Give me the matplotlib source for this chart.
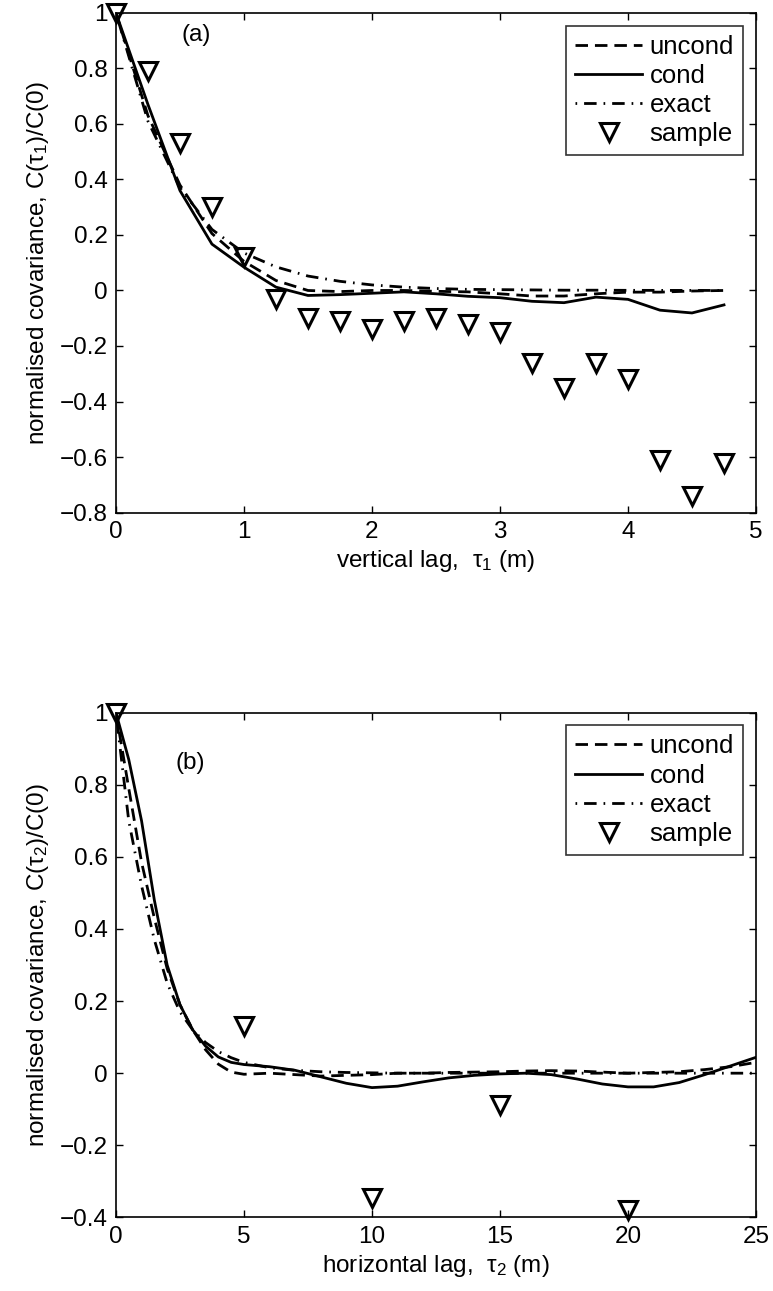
import matplotlib
matplotlib.use('Agg')
import matplotlib.pyplot as plt
import numpy as np

plt.rcParams['font.family'] = ['Liberation Sans Narrow', 'Liberation Sans', 'DejaVu Sans']
plt.rcParams['mathtext.fontset'] = 'custom'
plt.rcParams['mathtext.rm'] = 'Liberation Sans'
plt.rcParams['mathtext.it'] = 'Liberation Sans'

# ---- (a) vertical lag ----
tau1 = [0, 0.25, 0.5, 0.75, 1.0, 1.25, 1.5, 1.75, 2.0, 2.25, 2.5, 2.75,
        3.0, 3.25, 3.5, 3.75, 4.0, 4.25, 4.5, 4.75]
uncond1 = [1.0, 0.63, 0.38, 0.205, 0.105, 0.036, 0.0, -0.004, 0.0, 0.0, -0.003, -0.005,
           -0.012, -0.02, -0.02, -0.012, -0.006, -0.006, -0.002, 0.0]
cond1 = [1.0, 0.67, 0.36, 0.167, 0.084, 0.012, -0.018, -0.015, -0.01, -0.005, -0.012, -0.021,
         -0.026, -0.039, -0.044, -0.024, -0.032, -0.071, -0.081, -0.052]
exact1 = [1.0, 0.61, 0.37, 0.22, 0.135, 0.085, 0.052, 0.033, 0.02, 0.012, 0.007, 0.004,
          0.003, 0.002, 0.001, 0.001, 0.0005, 0.0003, 0.0002, 0.0001]
sample1 = [1.0, 0.79, 0.53, 0.30, 0.12, -0.03, -0.10, -0.11, -0.14, -0.11, -0.10, -0.12,
           -0.15, -0.26, -0.35, -0.26, -0.32, -0.61, -0.74, -0.62]

# ---- (b) horizontal lag ----
tau2 = [0, 0.5, 1, 1.5, 2, 2.5, 3, 3.5, 4, 4.5, 5, 6, 7, 8, 9, 10, 11, 12, 13,
        14, 15, 16, 17, 18, 19, 20, 21, 22, 23, 24, 25]
uncond2 = [1.0, 0.79, 0.585, 0.43, 0.29, 0.19, 0.12, 0.065, 0.025, 0.003, -0.003, 0.0,
           -0.004, -0.008, -0.006, -0.004, 0.0, 0.0, 0.002, 0.003, 0.004, 0.006, 0.007,
           0.006, 0.003, 0.0, 0.002, 0.004, 0.01, 0.018, 0.03]
cond2 = [1.0, 0.87, 0.70, 0.48, 0.30, 0.19, 0.12, 0.075, 0.045, 0.03, 0.024, 0.018,
         0.008, -0.01, -0.028, -0.04, -0.036, -0.024, -0.013, -0.006, -0.002, 0.0,
         -0.004, -0.016, -0.03, -0.038, -0.038, -0.026, -0.004, 0.02, 0.044]
exact2 = [1.0, 0.70, 0.52, 0.37, 0.25, 0.17, 0.12, 0.085, 0.06, 0.043, 0.03, 0.015,
          0.008, 0.004, 0.002, 0.001, 0.0, 0.0, 0.0, 0.0, 0.0, 0.0, 0.0, 0.0, 0.0, 0.0,
          0.0, 0.0, 0.0, 0.0, 0.0]
tau2_sample = [0, 5, 10, 15, 20]
sample2 = [1.0, 0.13, -0.347, -0.088, -0.38]

fs = 17.5
fig = plt.figure(figsize=(7.73, 12.91), dpi=100)
ax1 = fig.add_axes([0.150, 0.603, 0.828, 0.387])
ax2 = fig.add_axes([0.150, 0.057, 0.828, 0.391])


def draw(ax, x, un, co, ex, xs, ys):
    ax.plot(x, un, color='k', ls=(0, (4.5, 2.5)), lw=2.0, label='uncond')
    ax.plot(x, co, color='k', ls='-', lw=2.0, label='cond')
    ax.plot(x, ex, color='k', ls=(0, (0.6, 2.5, 4.5, 2.5)), lw=2.0, label='exact')
    ax.plot(xs, ys, ls='none', marker='v', ms=13, mfc='none', mec='k', mew=2.2,
            label='sample', clip_on=False)
    ax.tick_params(direction='in', top=True, right=True, length=5, width=1,
                   labelsize=fs, pad=6)
    for s in ax.spines.values():
        s.set_linewidth(1.2)
    leg = ax.legend(loc='upper right', fontsize=fs + 1, frameon=True, fancybox=False,
                    edgecolor='k', handlelength=2.6, handletextpad=0.3,
                    borderpad=0.35, labelspacing=0.2, borderaxespad=0.5)
    leg.get_frame().set_linewidth(1.2)


draw(ax1, tau1, uncond1, cond1, exact1, tau1, sample1)
ax1.set_xlim(0, 5)
ax1.set_ylim(-0.8, 1)
ax1.set_xticks([0, 1, 2, 3, 4, 5])
ax1.set_yticks([-0.8, -0.6, -0.4, -0.2, 0, 0.2, 0.4, 0.6, 0.8, 1])
ax1.set_yticklabels(['\u22120.8', '\u22120.6', '\u22120.4', '\u22120.2', '0',
                     '0.2', '0.4', '0.6', '0.8', '1'])
ax1.set_xlabel(r'vertical lag,  $\tau_1$ (m)', fontsize=fs, labelpad=4)
ax1.set_ylabel(r'normalised covariance, C($\tau_1$)/C(0)', fontsize=fs, labelpad=6)
ax1.text(0.63, 0.92, '(a)', fontsize=fs, ha='center', va='center')

draw(ax2, tau2, uncond2, cond2, exact2, tau2_sample, sample2)
ax2.set_xlim(0, 25)
ax2.set_ylim(-0.4, 1)
ax2.set_xticks([0, 5, 10, 15, 20, 25])
ax2.set_yticks([-0.4, -0.2, 0, 0.2, 0.4, 0.6, 0.8, 1])
ax2.set_yticklabels(['\u22120.4', '\u22120.2', '0', '0.2', '0.4', '0.6', '0.8', '1'])
ax2.set_xlabel(r'horizontal lag,  $\tau_2$ (m)', fontsize=fs, labelpad=4)
ax2.set_ylabel(r'normalised covariance, C($\tau_2$)/C(0)', fontsize=fs, labelpad=6)
ax2.text(2.9, 0.86, '(b)', fontsize=fs, ha='center', va='center')

fig.savefig('out.png', dpi=100)
